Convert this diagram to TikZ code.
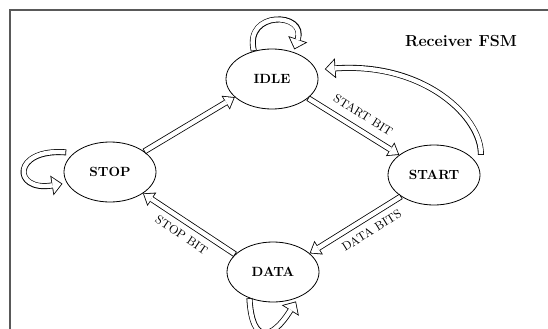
\documentclass[tikz,border=0pt]{standalone}
\usepackage{tikz}
\usetikzlibrary{shapes,arrows.meta,calc}

\tikzset{
  state/.style={ellipse, draw, line width=0.6pt, minimum width=69pt, minimum height=45pt, inner sep=1pt, font=\bfseries},
  fat/.style={line width=4.5pt, -{Triangle[length=8pt,width=12pt,line width=0pt]},
    postaction={draw=white, line width=3.3pt, -{Triangle[length=6.4pt,width=9.6pt,line width=0pt]}, shorten >=1pt, shorten <=0.6pt}},
  fat loop/.style={line width=4.5pt, -{Triangle[length=8pt,width=15pt,line width=0pt]},
    postaction={draw=white, line width=3.3pt, -{Triangle[length=6.5pt,width=12.2pt,line width=0pt]}, shorten >=0.9pt, shorten <=0.6pt}},
  edgelabel/.style={font=\small, inner sep=5pt}
}

\begin{document}
\begin{tikzpicture}[x=0.75pt,y=0.75pt,yscale=-1,xscale=1]
\clip (0,0) rectangle (548,328);

%Frame
\draw [color=black!65, line width=1.2pt] (10,330) -- (10,10) -- (550,10) ;

% States
\node [state] (IDLE) at (272,79) {IDLE};
\node [state] (START) at (434,175) {START};
\node [state] (DATA) at (273,272) {DATA};
\node [state] (STOP) at (110,172) {STOP};

% Text Node
\node [font=\large\bfseries] (title) at (461,41) {Receiver FSM};

%Transitions
\draw [fat] (STOP.31) -- (IDLE.206) ;
\draw [fat] (IDLE.332) -- node [edgelabel, rotate=-32, anchor=south, inner sep=5.5pt, pos=0.52] {START BIT} (START.150) ;
\draw [fat] (START.213) -- node [edgelabel, rotate=32, anchor=north, inner sep=4.5pt, pos=0.4] {DATA BITS} (DATA.27) ;
\draw [fat] (DATA.155) -- node [edgelabel, rotate=-34, anchor=north, inner sep=4.5pt, pos=0.5] {STOP BIT} (STOP.327) ;

%Self loops
\draw [fat loop] (IDLE.123) .. controls (244,10) and (307,12) .. ($(IDLE.50)+(0,-3)$) ;
\draw [fat loop] (DATA.228) .. controls (252,345) and (272,340) .. ($(DATA.311)+(0,3)$) ;
\draw [fat loop] ($(STOP.155)+(-6,-2)$) .. controls (12,148) and (12,192) .. ($(STOP.200)+(-7,-3)$) ;

%Back to idle
\draw [fat loop] ($(START.30)+(12,0)$) .. controls (482,118) and (425,62) .. ($(IDLE.10)+(8,-2)$) ;

\end{tikzpicture}
\end{document}
